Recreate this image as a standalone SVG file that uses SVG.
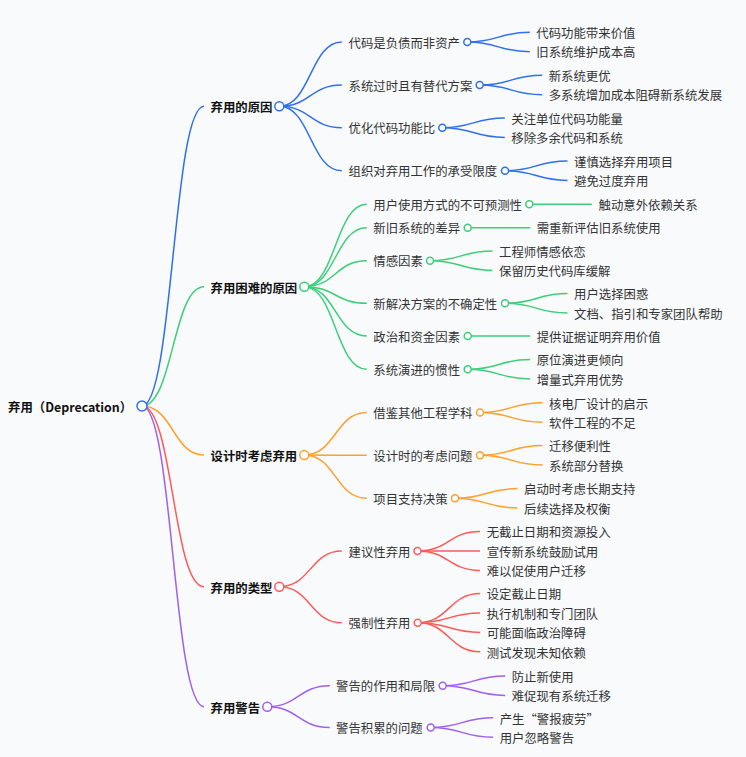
<svg xmlns="http://www.w3.org/2000/svg" width="746" height="757" viewBox="0 0 746 757">
<style>
text{font-family:"Noto Sans CJK SC","Noto Sans",sans-serif;font-size:12.4px;fill:#333}
.root,.l1{font-weight:bold;fill:#111}
path{fill:none;stroke-width:1.5}
circle{fill:#fff;stroke-width:1.5}
.b{stroke:#2f6ff0}.g{stroke:#3ccf78}.o{stroke:#ffa02a}.r{stroke:#ff5a5a}.p{stroke:#a060ee}
</style>
<rect width="746" height="757" fill="#f8fafc"/>
<g id="connectors">
<path class="b" d="M142 406C173 406 173 106.3 204 106.3"/>
<path class="g" d="M142 406C173 406 173 286.7 204 286.7"/>
<path class="o" d="M142 406C173 406 173 455 204 455"/>
<path class="r" d="M142 406C173 406 173 586.7 204 586.7"/>
<path class="p" d="M142 406C173 406 173 706.7 204 706.7"/>
<path class="b" d="M279.3 106.3C310.5 106.3 310.5 42 341.8 42"/>
<path class="b" d="M279.3 106.3C310.5 106.3 310.5 85 341.8 85"/>
<path class="b" d="M279.3 106.3C310.5 106.3 310.5 127.7 341.8 127.7"/>
<path class="b" d="M279.3 106.3C310.5 106.3 310.5 170.7 341.8 170.7"/>
<path class="g" d="M304.3 286.7C335.5 286.7 335.5 204.3 366.8 204.3"/>
<path class="g" d="M304.3 286.7C335.5 286.7 335.5 227.7 366.8 227.7"/>
<path class="g" d="M304.3 286.7C335.5 286.7 335.5 260.7 366.8 260.7"/>
<path class="g" d="M304.3 286.7C335.5 286.7 335.5 303.3 366.8 303.3"/>
<path class="g" d="M304.3 286.7C335.5 286.7 335.5 336 366.8 336"/>
<path class="g" d="M304.3 286.7C335.5 286.7 335.5 369.3 366.8 369.3"/>
<path class="o" d="M304.3 455C335.5 455 335.5 412.5 366.8 412.5"/>
<path class="o" d="M304.3 455C335.5 455 335.5 455.3 366.8 455.3"/>
<path class="o" d="M304.3 455C335.5 455 335.5 498.3 366.8 498.3"/>
<path class="r" d="M279.3 586.7C310.5 586.7 310.5 551 341.8 551"/>
<path class="r" d="M279.3 586.7C310.5 586.7 310.5 622.7 341.8 622.7"/>
<path class="p" d="M267.3 706.7C298.5 706.7 298.5 685.7 329.8 685.7"/>
<path class="p" d="M267.3 706.7C298.5 706.7 298.5 727.5 329.8 727.5"/>
<path class="b" d="M467.3 42C498.5 42 498.5 32.3 529.8 32.3"/>
<path class="b" d="M467.3 42C498.5 42 498.5 51.7 529.8 51.7"/>
<path class="b" d="M479.7 85C511 85 511 75.3 542.2 75.3"/>
<path class="b" d="M479.7 85C511 85 511 94.7 542.2 94.7"/>
<path class="b" d="M442.3 127.7C473.5 127.7 473.5 118 504.8 118"/>
<path class="b" d="M442.3 127.7C473.5 127.7 473.5 137.4 504.8 137.4"/>
<path class="b" d="M505 170.7C536.2 170.7 536.2 161 567.5 161"/>
<path class="b" d="M505 170.7C536.2 170.7 536.2 180.4 567.5 180.4"/>
<path class="g" d="M529.3 204.3H591.8"/>
<path class="g" d="M467.7 227.7H530.2"/>
<path class="g" d="M430 260.7C461.2 260.7 461.2 251 492.5 251"/>
<path class="g" d="M430 260.7C461.2 260.7 461.2 270.4 492.5 270.4"/>
<path class="g" d="M505 303.3C536.2 303.3 536.2 293.6 567.5 293.6"/>
<path class="g" d="M505 303.3C536.2 303.3 536.2 313 567.5 313"/>
<path class="g" d="M467.7 336H530.2"/>
<path class="g" d="M467.7 369.3C499 369.3 499 359.6 530.2 359.6"/>
<path class="g" d="M467.7 369.3C499 369.3 499 379 530.2 379"/>
<path class="o" d="M480 412.5C511.2 412.5 511.2 402.8 542.5 402.8"/>
<path class="o" d="M480 412.5C511.2 412.5 511.2 422.2 542.5 422.2"/>
<path class="o" d="M480 455.3C511.2 455.3 511.2 445.6 542.5 445.6"/>
<path class="o" d="M480 455.3C511.2 455.3 511.2 465 542.5 465"/>
<path class="o" d="M455 498.3C486.2 498.3 486.2 488.6 517.5 488.6"/>
<path class="o" d="M455 498.3C486.2 498.3 486.2 508 517.5 508"/>
<path class="r" d="M417.5 551C448.7 551 448.7 531.6 480 531.6"/>
<path class="r" d="M417.5 551H480"/>
<path class="r" d="M417.5 551C448.7 551 448.7 570.4 480 570.4"/>
<path class="r" d="M417.7 622.7C449 622.7 449 593.6 480.2 593.6"/>
<path class="r" d="M417.7 622.7C449 622.7 449 613 480.2 613"/>
<path class="r" d="M417.7 622.7C449 622.7 449 632.4 480.2 632.4"/>
<path class="r" d="M417.7 622.7C449 622.7 449 651.8 480.2 651.8"/>
<path class="p" d="M442.7 685.7C474 685.7 474 676 505.2 676"/>
<path class="p" d="M442.7 685.7C474 685.7 474 695.4 505.2 695.4"/>
<path class="p" d="M430.7 727.5C462 727.5 462 717.8 493.2 717.8"/>
<path class="p" d="M430.7 727.5C462 727.5 462 737.2 493.2 737.2"/>
</g>
<g id="root"><text class="root" x="8" y="412">弃用（Deprecation）</text><circle class="b" cx="142" cy="406" r="5"/></g>
<g id="n-reasons"><text class="l1" x="210.5" y="112">弃用的原因</text><circle class="b" cx="279.3" cy="106.3" r="4.5"/></g>
<g id="n-hard"><text class="l1" x="210.5" y="292.5">弃用困难的原因</text><circle class="g" cx="304.3" cy="286.7" r="4.5"/></g>
<g id="n-design"><text class="l1" x="210.5" y="460.8">设计时考虑弃用</text><circle class="o" cx="304.3" cy="455" r="4.5"/></g>
<g id="n-types"><text class="l1" x="210.5" y="592.5">弃用的类型</text><circle class="r" cx="279.3" cy="586.7" r="4.5"/></g>
<g id="n-warn"><text class="l1" x="210.5" y="712.5">弃用警告</text><circle class="p" cx="267.3" cy="706.7" r="4.5"/></g>

<g id="n-a1"><text x="348.5" y="47.7">代码是负债而非资产</text><circle class="b" cx="467.3" cy="42" r="3.5"/></g>
<g id="n-a2"><text x="348.5" y="90.7">系统过时且有替代方案</text><circle class="b" cx="479.7" cy="85" r="3.5"/></g>
<g id="n-a3"><text x="348.5" y="133.4">优化代码功能比</text><circle class="b" cx="442.3" cy="127.7" r="3.5"/></g>
<g id="n-a4"><text x="348.5" y="176.4">组织对弃用工作的承受限度</text><circle class="b" cx="505" cy="170.7" r="3.5"/></g>
<g id="leaves-a">
<text x="536.3" y="38">代码功能带来价值</text>
<text x="536.3" y="57.4">旧系统维护成本高</text>
<text x="548.7" y="81">新系统更优</text>
<text x="548.7" y="100.4">多系统增加成本阻碍新系统发展</text>
<text x="511.3" y="123.7">关注单位代码功能量</text>
<text x="511.3" y="143.1">移除多余代码和系统</text>
<text x="574" y="166.7">谨慎选择弃用项目</text>
<text x="574" y="186.1">避免过度弃用</text>
</g>

<g id="n-b1"><text x="373.3" y="210">用户使用方式的不可预测性</text><circle class="g" cx="529.3" cy="204.3" r="3.5"/></g>
<g id="n-b2"><text x="373.3" y="233.4">新旧系统的差异</text><circle class="g" cx="467.7" cy="227.7" r="3.5"/></g>
<g id="n-b3"><text x="373.3" y="266.4">情感因素</text><circle class="g" cx="430" cy="260.7" r="3.5"/></g>
<g id="n-b4"><text x="373.3" y="309">新解决方案的不确定性</text><circle class="g" cx="505" cy="303.3" r="3.5"/></g>
<g id="n-b5"><text x="373.3" y="341.7">政治和资金因素</text><circle class="g" cx="467.7" cy="336" r="3.5"/></g>
<g id="n-b6"><text x="373.3" y="375">系统演进的惯性</text><circle class="g" cx="467.7" cy="369.3" r="3.5"/></g>
<g id="leaves-b">
<text x="598.5" y="210">触动意外依赖关系</text>
<text x="536.7" y="233.4">需重新评估旧系统使用</text>
<text x="499" y="256.7">工程师情感依恋</text>
<text x="499" y="276.1">保留历史代码库缓解</text>
<text x="574" y="299.3">用户选择困惑</text>
<text x="574" y="318.7">文档、指引和专家团队帮助</text>
<text x="536.7" y="341.7">提供证据证明弃用价值</text>
<text x="536.7" y="365.3">原位演进更倾向</text>
<text x="536.7" y="384.7">增量式弃用优势</text>
</g>

<g id="n-c1"><text x="373.3" y="418.2">借鉴其他工程学科</text><circle class="o" cx="480" cy="412.5" r="3.5"/></g>
<g id="n-c2"><text x="373.3" y="461">设计时的考虑问题</text><circle class="o" cx="480" cy="455.3" r="3.5"/></g>
<g id="n-c3"><text x="373.3" y="504">项目支持决策</text><circle class="o" cx="455" cy="498.3" r="3.5"/></g>
<g id="leaves-c">
<text x="549" y="408.5">核电厂设计的启示</text>
<text x="549" y="427.9">软件工程的不足</text>
<text x="549" y="451.3">迁移便利性</text>
<text x="549" y="470.7">系统部分替换</text>
<text x="524" y="494.3">启动时考虑长期支持</text>
<text x="524" y="513.7">后续选择及权衡</text>
</g>

<g id="n-d1"><text x="348.5" y="556.7">建议性弃用</text><circle class="r" cx="417.5" cy="551" r="3.5"/></g>
<g id="n-d2"><text x="348.5" y="628.4">强制性弃用</text><circle class="r" cx="417.7" cy="622.7" r="3.5"/></g>
<g id="leaves-d">
<text x="486.7" y="537.3">无截止日期和资源投入</text>
<text x="486.7" y="556.7">宣传新系统鼓励试用</text>
<text x="486.7" y="576.1">难以促使用户迁移</text>
<text x="486.7" y="599.3">设定截止日期</text>
<text x="486.7" y="618.7">执行机制和专门团队</text>
<text x="486.7" y="638.1">可能面临政治障碍</text>
<text x="486.7" y="657.5">测试发现未知依赖</text>
</g>

<g id="n-e1"><text x="336" y="691.4">警告的作用和局限</text><circle class="p" cx="442.7" cy="685.7" r="3.5"/></g>
<g id="n-e2"><text x="336" y="733.2">警告积累的问题</text><circle class="p" cx="430.7" cy="727.5" r="3.5"/></g>
<g id="leaves-e">
<text x="511.7" y="681.7">防止新使用</text>
<text x="511.7" y="701.1">难促现有系统迁移</text>
<text x="499.7" y="723.5">产生“警报疲劳”</text>
<text x="499.7" y="742.9">用户忽略警告</text>
</g>
</svg>
